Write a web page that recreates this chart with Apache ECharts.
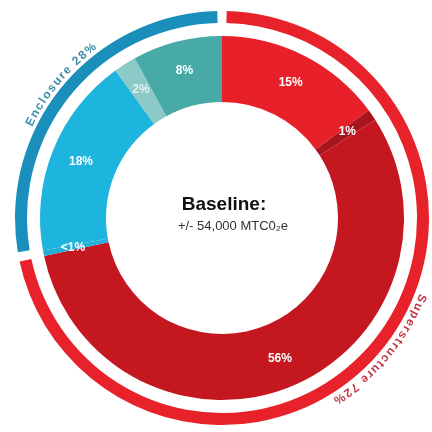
<!DOCTYPE html>
<html>
<head>
<meta charset="utf-8">
<script src="https://cdn.jsdelivr.net/npm/echarts@6/dist/echarts.min.js"></script>
<style>
  html, body { margin: 0; padding: 0; background: #ffffff; }
  #chart { width: 432px; height: 432px; }
</style>
</head>
<body>
<div id="chart"></div>
<script>
// Breakdown of embodied carbon: detail ring (inner) and group ring (outer)
const detailNames  = ['Structure 15', 'Structure 1', 'Structure 56', 'Enclosure <1', 'Enclosure 18', 'Enclosure 2', 'Enclosure 8'];
const detailValues = [15, 1, 56, 0.5, 18, 2, 8];
const detailLabels = ['15%', '1%', '56%', '<1%', '18%', '2%', '8%'];

const groupNames  = ['Superstructure', 'Enclosure'];
const groupValues = [72, 28];
const groupLabels = ['Superstructure 72%', 'Enclosure 28%'];

const centerTitle = 'Baseline:';
const centerSub   = '+/- 54,000 MTC0\u2082e';

// styling
const detailColors = ['#e8202a', '#a8141c', '#c4171f', '#24afd6', '#1db5de', '#8ccac7', '#47aaa7'];
const groupColors  = ['#e8222a', '#1a8fbc'];
const groupTextColors = ['#c23a48', '#3a8eae'];

const cx = 222, cy = 218;
const chart = echarts.init(document.getElementById('chart'), null, { renderer: 'canvas' });

// lay characters of a label along the outer arc, reading clockwise
const measureCtx = document.createElement('canvas').getContext('2d');
function arcText(text, midDeg, radius, font, color, spacing) {
  measureCtx.font = font;
  const chars = Array.from(text);
  const widths = chars.map(ch => measureCtx.measureText(ch).width);
  const total = widths.reduce((a, b) => a + b, 0) + spacing * (chars.length - 1);
  let s = -total / 2;
  const out = [];
  chars.forEach((ch, i) => {
    const off = s + widths[i] / 2;
    const theta = midDeg * Math.PI / 180 + off / radius;
    out.push({
      type: 'text',
      x: cx + radius * Math.sin(theta),
      y: cy - radius * Math.cos(theta),
      rotation: -theta,
      silent: true,
      style: { text: ch, font: font, fill: color, align: 'center', verticalAlign: 'middle',
               textAlign: 'center', textVerticalAlign: 'middle' }
    });
    s += widths[i] + spacing;
  });
  return out;
}

// mid angle (clockwise from 12 o'clock) of each group sector
const groupTotal = groupValues.reduce((a, b) => a + b, 0);
let acc = 0;
const groupMid = groupValues.map(v => { const m = (acc + v / 2) / groupTotal * 360; acc += v; return m; });

const arcGraphics = []
  .concat(arcText(groupLabels[0], groupMid[0], 215, 'bold 12px "Liberation Sans", Arial, sans-serif', groupTextColors[0], 1.6))
  .concat(arcText(groupLabels[1], groupMid[1], 214, 'bold 12px "Liberation Sans", Arial, sans-serif', groupTextColors[1], 1.6));

chart.setOption({
  backgroundColor: '#ffffff',
  animation: false,
  series: [
    {
      type: 'pie',
      name: 'detail',
      center: [cx, cy],
      radius: [116, 182],
      startAngle: 90,
      clockwise: true,
      avoidLabelOverlap: false,
      silent: true,
      label: {
        show: true,
        position: 'inside',
        color: '#ffffff',
        fontFamily: '"Liberation Sans", Arial, sans-serif',
        fontWeight: 'bold',
        fontSize: 12,
        formatter: p => detailLabels[p.dataIndex]
      },
      labelLine: { show: false },
      data: detailValues.map((v, i) => ({
        name: detailNames[i], value: v,
        itemStyle: { color: detailColors[i] },
        label: i === 5 ? { color: 'rgba(255,255,255,0.75)' } : undefined
      }))
    },
    {
      type: 'pie',
      name: 'group',
      center: [cx, cy],
      radius: [195, 207],
      startAngle: 90,
      clockwise: true,
      padAngle: 2.6,
      silent: true,
      label: { show: false },
      labelLine: { show: false },
      data: groupValues.map((v, i) => ({ name: groupNames[i], value: v, itemStyle: { color: groupColors[i] } }))
    }
  ],
  graphic: arcGraphics.concat([
    {
      type: 'text', x: 224, y: 205, silent: true,
      style: { text: centerTitle, font: 'bold 19px "Liberation Sans", Arial, sans-serif', fill: '#111111',
               align: 'center', verticalAlign: 'middle', textAlign: 'center', textVerticalAlign: 'middle' }
    },
    {
      type: 'text', x: 233, y: 226, silent: true,
      style: { text: centerSub, font: '13px "Liberation Sans", Arial, sans-serif', fill: '#333333',
               align: 'center', verticalAlign: 'middle', textAlign: 'center', textVerticalAlign: 'middle' }
    }
  ])
});
</script>
</body>
</html>
